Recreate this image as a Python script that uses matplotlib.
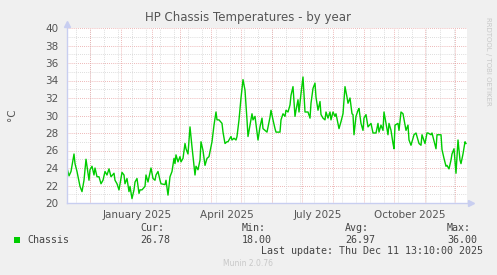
import numpy as np
import matplotlib
matplotlib.use("Agg")
from matplotlib import pyplot as plt
import matplotlib.dates as mdates
from datetime import datetime, timedelta


start_date = datetime(2024, 11, 8)
span_days = 400

# day offset from start_date, temperature (degC)
days = [0, 2, 4, 7, 8, 10, 13, 15, 17, 19, 22, 23, 25, 27, 28, 30, 32, 34, 36, 38,
        40, 42, 44, 47, 48, 50, 52, 55, 57, 58, 60, 62, 63, 65, 67, 68, 70, 72, 73, 75,
        78, 79, 81, 84, 86, 88, 89, 91, 93, 94, 98, 99, 101, 103, 105, 107, 108, 109, 111, 113,
        114, 116, 118, 119, 121, 123, 125, 128, 129, 131, 133, 134, 136, 138, 140, 142, 145, 147, 149, 150,
        152, 155, 156, 158, 160, 161, 164, 165, 167, 169, 170, 172, 174, 176, 178, 180, 181, 183, 185, 186,
        188, 190, 191, 193, 195, 196, 200, 203, 204, 206, 208, 209, 213, 214, 216, 218, 219, 221, 223, 224,
        226, 228, 229, 231, 232, 234, 236, 238, 241, 243, 244, 246, 248, 249, 251, 253, 254, 256, 258, 259,
        261, 263, 264, 266, 268, 269, 271, 272, 274, 276, 277, 278, 280, 281, 283, 285, 286, 287, 289, 291,
        292, 294, 296, 297, 299, 301, 304, 306, 309, 311, 312, 314, 316, 317, 319, 321, 322, 324, 326, 327,
        328, 331, 332, 334, 336, 339, 341, 342, 344, 347, 349, 352, 354, 355, 358, 360, 361, 364, 365, 369,
        370, 374, 375, 377, 379, 380, 382, 384, 385, 387, 389, 391, 393, 394, 396, 398, 399]
temps = [24.0, 23.1, 23.6, 25.6, 24.5, 23.6, 21.9, 21.3, 22.6, 25.0, 22.6, 23.8, 24.2, 23.2, 24.0, 23.0, 23.0, 22.2, 22.6, 23.6,
         23.2, 23.9, 23.0, 23.4, 22.6, 22.2, 21.5, 23.5, 23.2, 22.2, 22.8, 21.3, 21.9, 20.5, 21.5, 22.4, 22.8, 21.1, 21.5, 21.5,
         21.9, 23.2, 22.4, 24.0, 22.8, 22.6, 23.2, 23.6, 22.6, 22.2, 22.1, 22.6, 20.9, 23.0, 23.6, 25.1, 24.5, 25.5, 24.7, 25.3,
         24.7, 25.1, 26.8, 26.2, 25.6, 28.7, 26.4, 23.2, 24.2, 23.8, 24.9, 27.0, 26.0, 24.3, 25.1, 25.3, 27.0, 28.9, 30.4, 29.5,
         29.5, 29.1, 28.1, 26.8, 27.0, 27.0, 27.6, 27.2, 27.4, 27.2, 27.6, 29.5, 32.0, 34.1, 32.9, 29.5, 27.6, 28.9, 30.2, 29.5,
         29.9, 28.1, 27.2, 28.7, 29.7, 28.5, 28.1, 29.8, 30.6, 29.5, 28.5, 28.1, 28.1, 29.5, 30.2, 29.9, 30.6, 30.4, 31.2, 32.3,
         33.3, 29.9, 30.6, 31.8, 30.4, 32.5, 34.4, 30.4, 30.4, 29.7, 31.4, 33.1, 33.7, 32.1, 30.6, 31.6, 30.1, 29.7, 29.5, 30.4,
         29.7, 30.4, 29.5, 30.4, 29.9, 30.2, 29.1, 28.5, 29.3, 30.2, 31.8, 33.3, 32.1, 31.4, 32.0, 30.2, 30.1, 27.8, 29.9, 30.6,
         30.8, 29.1, 28.3, 29.7, 30.1, 28.7, 29.1, 28.0, 28.0, 29.1, 28.1, 28.9, 28.3, 30.4, 29.1, 27.8, 29.1, 28.3, 26.8, 26.2,
         28.9, 29.1, 28.3, 30.4, 30.2, 28.3, 28.9, 27.2, 26.6, 27.8, 28.0, 26.8, 26.6, 27.8, 26.8, 28.0, 28.0, 27.8, 28.0, 26.2,
         27.8, 27.8, 26.1, 25.1, 24.2, 24.3, 23.9, 24.9, 25.6, 26.2, 23.4, 27.2, 24.9, 24.5, 25.6, 27.0, 26.8]

x_labels = ["January 2025", "April 2025", "July 2025", "October 2025"]
x_label_dates = [datetime(2025, 1, 17), datetime(2025, 4, 17), datetime(2025, 7, 17), datetime(2025, 10, 17)]

legend_name = "Chassis"
stat_names = ["Cur:", "Min:", "Avg:", "Max:"]
stat_values = ["26.78", "18.00", "26.97", "36.00"]
last_update = "Last update: Thu Dec 11 13:10:00 2025"

W, H = 497, 275
BG = "#f0f0f0"
TXT = "#555555"
AXC = "#c8cef0"
MAJ = "#e8a0a0"
MIN = "#d2d2d2"
GREEN = "#00cc00"


def fx(px):
    return px / W


def fy(py):
    return 1 - py / H


fig = plt.figure(figsize=(W / 100, H / 100), dpi=100, facecolor=BG)
ax = fig.add_axes([fx(67), fy(203), (467 - 67) / W, (203 - 28) / H])
ax.set_facecolor("white")

dates = [start_date + timedelta(days=d) for d in days]
x0 = start_date
x1 = start_date + timedelta(days=span_days)
ax.set_xlim(x0, x1)
ax.set_ylim(20, 40)

# grid
ax.yaxis.set_major_locator(plt.MultipleLocator(2))
ax.yaxis.set_minor_locator(plt.MultipleLocator(1))
ax.xaxis.set_major_locator(mdates.MonthLocator())
ax.xaxis.set_minor_locator(mdates.DayLocator(bymonthday=[1], interval=1))
dash = (0, (1, 1.5))
for yv in np.arange(21, 40, 1):
    if yv % 2:
        ax.axhline(yv, color=MIN, lw=0.6, ls=dash, zorder=1)
for yv in np.arange(22, 41, 2):
    ax.axhline(yv, color=MAJ, lw=0.6, ls=dash, zorder=1)
d = datetime(2024, 11, 17)
while d < x1:
    ax.axvline(d, color=MIN, lw=0.6, ls=dash, zorder=1)
    d += timedelta(days=14)
for m in range(12, 25):
    md = datetime(2024 + (m - 1) // 12, (m - 1) % 12 + 1, 1)
    ax.axvline(md, color=MAJ, lw=0.6, ls=dash, zorder=1)

ax.plot(dates, temps, color=GREEN, lw=1.0, zorder=3)

# ticks
ax.set_xticks(x_label_dates)
ax.set_xticklabels(x_labels)
ax.set_yticks(np.arange(20, 41, 2))
ax.tick_params(axis="both", length=0, labelsize=7.5, colors=TXT)
ax.tick_params(axis="x", pad=5)
ax.tick_params(axis="y", pad=6)
ax.tick_params(which="minor", length=0)

for s in ["top", "right"]:
    ax.spines[s].set_visible(False)
for s in ["left", "bottom"]:
    ax.spines[s].set_color(AXC)
    ax.spines[s].set_linewidth(1.0)
    ax.spines[s].set_zorder(4)
ax.plot(1.01, 0, ">", color=AXC, ms=4, transform=ax.transAxes, clip_on=False)
ax.plot(0, 1.025, "^", color=AXC, ms=4, transform=ax.transAxes, clip_on=False)

fig.text(fx(248), fy(17), "HP Chassis Temperatures - by year", ha="center", va="center",
         fontsize=8.5, color=TXT)
fig.text(fx(12), fy(115), "°C", ha="center", va="center", rotation=90, fontsize=7.5, color=TXT)
fig.text(fx(488), fy(17), "RRDTOOL / TOBI OETIKER", ha="center", va="top", rotation=-90,
         fontsize=5.0, color="#c8c8c8")

# legend
mono = "DejaVu Sans Mono"
fig.patches.append(plt.Rectangle((fx(14), fy(243)), 6 / W, 6 / H, transform=fig.transFigure,
                                 facecolor=GREEN, edgecolor="none"))
fig.text(fx(27), fy(240), legend_name, ha="left", va="center", fontsize=7.2, family=mono, color="#444444")
for px, name, val in zip([140, 242, 345, 447], stat_names, stat_values):
    fig.text(fx(px), fy(228), name, ha="left", va="center", fontsize=7.2, family=mono, color="#444444")
    fig.text(fx(px), fy(240), val, ha="left", va="center", fontsize=7.2, family=mono, color="#444444")
fig.text(fx(483), fy(251.5), last_update, ha="right", va="center", fontsize=7.2, family=mono, color="#444444")
fig.text(fx(248), fy(264), "Munin 2.0.76", ha="center", va="center", fontsize=5.5, color="#c8c8c8")

fig.savefig("out.png", dpi=100, facecolor=BG)
